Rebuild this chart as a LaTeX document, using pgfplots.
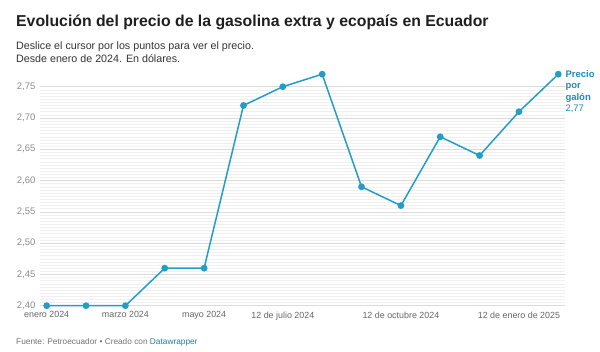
\documentclass[border=0pt]{standalone}
\usepackage{fontspec}
\setmainfont{Liberation Sans}
\usepackage{pgfplots}
\pgfplotsset{compat=1.18}
\definecolor{linec}{RGB}{35,157,199}
\definecolor{labc}{RGB}{26,142,182}
\definecolor{dwblue}{RGB}{29,129,162}
\begin{document}
\begin{tikzpicture}
\path[use as bounding box] (0pt,0pt) rectangle (600pt,351pt);
\node[anchor=base west, inner sep=0, font=\bfseries\fontsize{15.8}{18}\selectfont, text=black!88] at (16pt,324pt) {Evolución del precio de la gasolina extra y ecopaís en Ecuador};
\node[anchor=base west, inner sep=0, font=\fontsize{10.7}{13}\selectfont, text=black!80] at (16pt,301pt) {Deslice el cursor por los puntos para ver el precio.};
\node[anchor=base west, inner sep=0, font=\fontsize{10.7}{13}\selectfont, text=black!80] at (16pt,288pt) {Desde enero de 2024. En dólares.};
\node[anchor=base west, inner sep=0, font=\fontsize{8.3}{10}\selectfont, text=black!55] at (16pt,7pt) {Fuente: Petroecuador • Creado con \textcolor{dwblue}{Datawrapper}};
\begin{axis}[
  at={(40pt,45.3pt)}, anchor=south west, scale only axis,
  width=525pt, height=219pt,
  xmin=-0.17, xmax=13.17, ymin=2.40, ymax=2.75,
  clip=false,
  axis line style={draw=none},
  major tick length=0, minor tick length=0,
  ytick={2.40,2.45,2.50,2.55,2.60,2.65,2.70,2.75},
  yticklabels={{2,40},{2,45},{2,50},{2,55},{2,60},{2,65},{2,70},{2,75}},
  minor y tick num=9,
  ymajorgrids, yminorgrids,
  major grid style={draw=black!14, line width=0.6pt},
  minor grid style={draw=black!6, line width=0.5pt},
  xtick={0,2,4,6,9,12},
  xticklabels={enero 2024, marzo 2024, mayo 2024, 12 de julio 2024, 12 de octubre 2024, 12 de enero de 2025},
  yticklabel style={font=\fontsize{9.5}{11}\selectfont, text=black!45, anchor=east, xshift=-1pt},
  xticklabel style={font=\fontsize{8.9}{11}\selectfont, text=black!60, yshift=-2.5pt},
]
\addplot[color=linec, line width=1.5pt, mark=*, mark size=2.6pt, mark options={fill=linec, draw=linec}] coordinates {
(0,2.40)(1,2.40)(2,2.40)(3,2.46)(4,2.46)(5,2.72)(6,2.75)(7,2.77)(8,2.59)(9,2.56)(10,2.67)(11,2.64)(12,2.71)(13,2.77)};
\node[anchor=north west, align=left, inner sep=0, xshift=7pt, yshift=3.8pt, font=\fontsize{9.5}{11.5}\selectfont, text=labc] at (axis cs:13,2.77) {\textbf{Precio}\\\textbf{por}\\\textbf{galón}\\2,77};
\end{axis}
\end{tikzpicture}
\end{document}
